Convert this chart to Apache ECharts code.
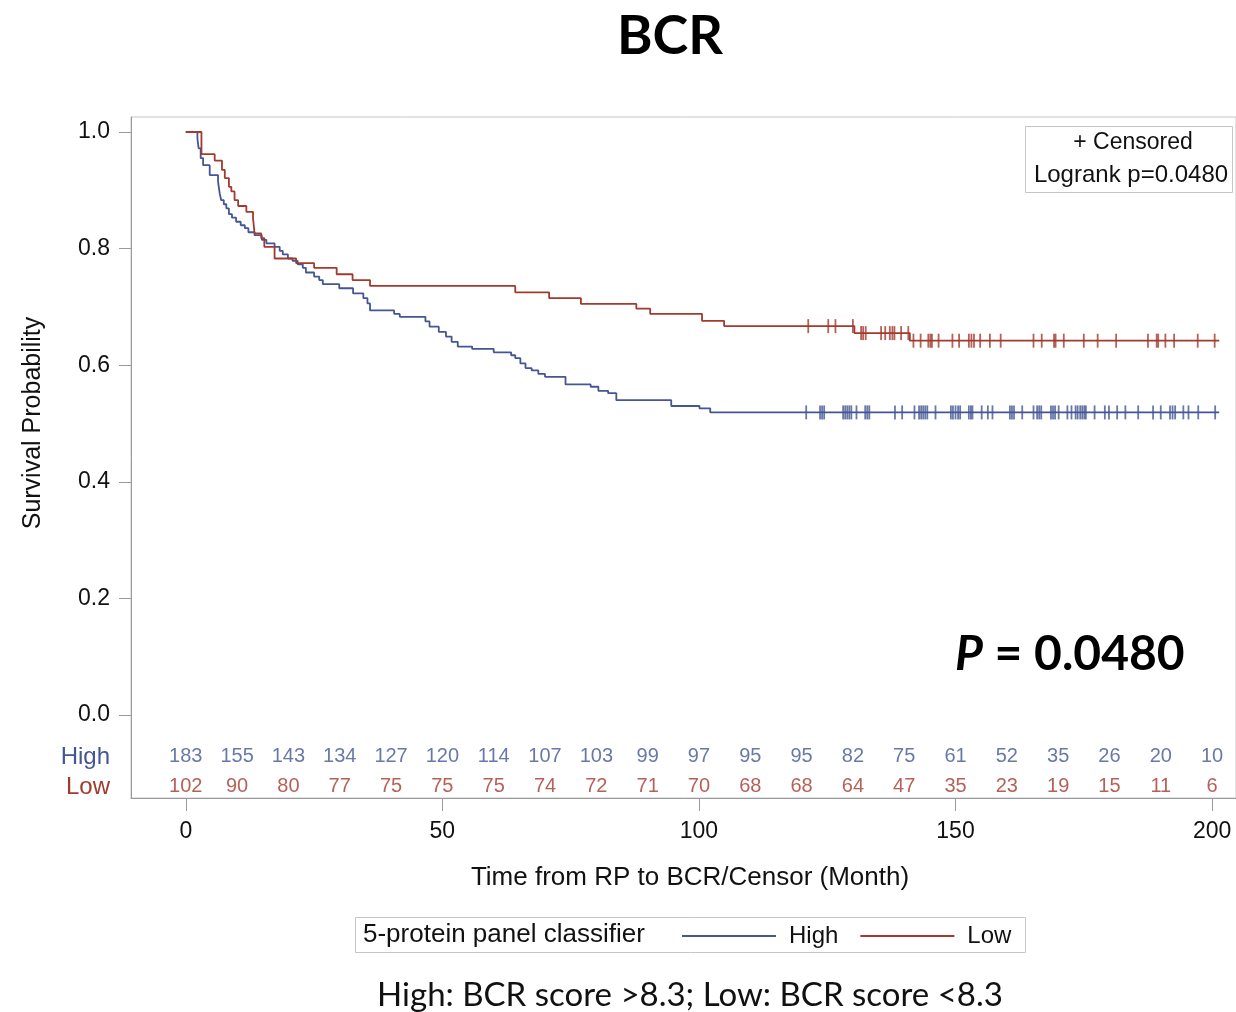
<!DOCTYPE html>
<html>
<head>
<meta charset="utf-8">
<title>BCR</title>
<script src="https://cdn.jsdelivr.net/npm/echarts@6/dist/echarts.min.js"></script>
<style>
  html, body { margin: 0; padding: 0; background: #ffffff; }
  #chart { width: 1236px; height: 1012px; }
</style>
</head>
<body>
<div id="chart"></div>
<script>
// Kaplan-Meier step points [month, survival] — value after each drop
const highSteps = [
  [0, 1], [2.26, 0.989], [2.5, 0.972], [2.9, 0.955], [3.37, 0.943], [4.66, 0.926],
  [6.28, 0.915], [6.6, 0.895], [6.9, 0.883], [7.4, 0.876], [7.9, 0.869], [8.4, 0.859],
  [9.0, 0.853], [9.8, 0.846], [10.7, 0.840], [11.5, 0.835], [12.2, 0.828], [13.4, 0.823],
  [14.8, 0.815], [15.7, 0.809], [17.3, 0.803], [18.3, 0.796], [18.9, 0.790], [19.9, 0.783],
  [20.8, 0.779], [21.8, 0.773], [22.8, 0.767], [23.4, 0.759], [25.0, 0.752], [26.0, 0.746],
  [26.7, 0.739], [29.9, 0.732], [32.6, 0.723], [34.6, 0.715], [35.4, 0.706], [35.9, 0.694],
  [40.6, 0.688], [41.7, 0.683], [46.7, 0.675], [47.5, 0.666], [49.3, 0.657], [50.7, 0.649],
  [51.8, 0.640], [53.0, 0.632], [55.8, 0.628], [60.0, 0.622], [63.4, 0.617], [64.2, 0.612],
  [65.2, 0.603], [66.2, 0.595], [67.4, 0.591], [68.7, 0.585], [70.0, 0.580], [74.0, 0.567],
  [78.9, 0.563], [80.4, 0.556], [82.3, 0.552], [83.9, 0.540], [94.6, 0.530], [100.1, 0.526],
  [102.2, 0.519], [201.4, 0.519]
];
const lowSteps = [
  [0, 1], [3.05, 0.962], [5.63, 0.951], [7.05, 0.935], [7.6, 0.921], [8.4, 0.906],
  [8.87, 0.898], [9.5, 0.883], [10.2, 0.873], [11.8, 0.863], [13.1, 0.852], [13.4, 0.826],
  [14.7, 0.818], [15.3, 0.803], [17.3, 0.783], [21.5, 0.775], [25.0, 0.767], [29.4, 0.756],
  [32.5, 0.746], [35.9, 0.736], [64.2, 0.725], [70.8, 0.715], [77.0, 0.705], [87.8, 0.697],
  [90.5, 0.688], [100.6, 0.676], [104.9, 0.667], [130.3, 0.655], [141.1, 0.642], [201.4, 0.642]
];

// Censoring times (months)
const highCensored = [
  120.9, 123.6, 124.0, 124.4, 128.1, 128.5, 128.9, 129.3, 129.7, 130.7, 132.4, 132.8, 133.2,
  138.2, 139.6, 142.0, 142.9, 143.3, 143.7, 144.1, 144.5, 146.1, 149.1, 149.5, 150.0, 150.5,
  150.9, 152.6, 153.0, 153.3, 155.1, 156.3, 157.2, 160.6, 161.0, 161.4, 163.0, 165.2, 165.9,
  166.3, 166.7, 168.6, 169.0, 169.4, 170.1, 171.8, 172.6, 173.4, 173.8, 174.3, 174.7, 175.1,
  175.4, 177.1, 179.1, 179.9, 181.5, 183.1, 185.6, 188.5, 190.0, 191.8, 192.3, 192.8, 194.4,
  195.4, 197.3, 200.6
];
const lowCensored = [
  121.3, 125.2, 126.6, 130.0, 131.6, 132.0, 132.5, 135.5, 136.3, 137.2, 137.7, 138.1, 139.4,
  140.8, 141.8, 143.2, 144.7, 145.1, 145.4, 146.7, 149.4, 150.7, 152.6, 153.1, 153.6, 154.8,
  156.7, 158.8, 165.2, 166.8, 169.2, 169.5, 171.1, 175.0, 177.7, 181.3, 187.5, 189.2, 189.5,
  190.9, 192.6, 197.2, 200.5
];

// Numbers at risk
const riskTimes = [0, 10, 20, 30, 40, 50, 60, 70, 80, 90, 100, 110, 120, 130, 140, 150, 160, 170, 180, 190, 200];
const riskHigh = [183, 155, 143, 134, 127, 120, 114, 107, 103, 99, 97, 95, 95, 82, 75, 61, 52, 35, 26, 20, 10];
const riskLow = [102, 90, 80, 77, 75, 75, 75, 74, 72, 71, 70, 68, 68, 64, 47, 35, 23, 19, 15, 11, 6];

const xTicks = [0, 50, 100, 150, 200];
const yTicks = [0, 0.2, 0.4, 0.6, 0.8, 1.0];

// Layout / style
const BLUE = '#445694';
const RED = '#A23A2E';
const AXIS_GREY = '#9a9a9a';
const FRAME_GREY = '#c6c6c6';
const SANS = '"Liberation Sans", Arial, sans-serif';
const HUMANIST = 'Lato, "Open Sans", sans-serif';
const ROW_HIGH_Y = -0.072;
const ROW_LOW_Y = -0.1235;

// Survival value of a step curve at time t
function survivalAt(steps, t) {
  let s = steps[0][1];
  for (const [time, val] of steps) {
    if (time <= t) s = val; else break;
  }
  return s;
}

const chart = echarts.init(document.getElementById('chart'), null, { renderer: 'canvas' });

const option = {
  backgroundColor: '#ffffff',
  animation: false,
  grid: {
    left: 131, top: 117, width: 1109, height: 681,
    show: true, borderColor: FRAME_GREY, borderWidth: 1, backgroundColor: 'transparent'
  },
  xAxis: {
    type: 'value', min: -10.68, max: 204.66,
    axisLine: { show: true, onZero: false, lineStyle: { color: AXIS_GREY, width: 1 } },
    axisTick: { show: true, customValues: xTicks, length: 13, lineStyle: { color: AXIS_GREY } },
    axisLabel: { customValues: xTicks, fontSize: 23, color: '#111', fontFamily: SANS, margin: 22 },
    splitLine: { show: false }
  },
  yAxis: {
    type: 'value', min: -0.1424, max: 1.0257,
    axisLine: { show: true, onZero: false, lineStyle: { color: AXIS_GREY, width: 1 } },
    axisTick: { show: true, customValues: yTicks, length: 12, lineStyle: { color: AXIS_GREY } },
    axisLabel: {
      customValues: yTicks, fontSize: 23, color: '#111', fontFamily: SANS, margin: 21,
      formatter: v => v.toFixed(1)
    },
    splitLine: { show: false }
  },
  legend: {
    data: ['High', 'Low'],
    left: 682, top: 924, padding: 0,
    icon: 'rect', itemWidth: 94, itemHeight: 2, itemGap: 22,
    textStyle: { fontSize: 24, color: '#111', fontFamily: SANS, padding: [0, 0, 0, 8] }
  },
  series: [
    {
      name: 'High', type: 'line', step: 'end', data: highSteps,
      symbol: 'none', color: BLUE, lineStyle: { color: BLUE, width: 1.8 }, z: 3
    },
    {
      name: 'Low', type: 'line', step: 'end', data: lowSteps,
      symbol: 'none', color: RED, lineStyle: { color: RED, width: 1.8 }, z: 3
    },
    {
      name: 'High censored', type: 'scatter',
      data: highCensored.map(t => [t, survivalAt(highSteps, t)]),
      symbol: 'rect', symbolSize: [1.8, 14], itemStyle: { color: BLUE }, z: 4
    },
    {
      name: 'Low censored', type: 'scatter',
      data: lowCensored.map(t => [t, survivalAt(lowSteps, t)]),
      symbol: 'rect', symbolSize: [1.8, 14], itemStyle: { color: RED }, z: 4
    },
    {
      name: 'At risk High', type: 'scatter', symbolSize: 0, silent: true,
      data: riskTimes.map((t, i) => [t, ROW_HIGH_Y, riskHigh[i]]),
      label: {
        show: true, position: 'inside', formatter: p => String(p.value[2]),
        color: BLUE, fontSize: 20, fontFamily: SANS
      }
    },
    {
      name: 'At risk Low', type: 'scatter', symbolSize: 0, silent: true,
      data: riskTimes.map((t, i) => [t, ROW_LOW_Y, riskLow[i]]),
      label: {
        show: true, position: 'inside', formatter: p => String(p.value[2]),
        color: RED, fontSize: 20, fontFamily: SANS
      }
    }
  ],
  graphic: [
    {
      type: 'text', x: 670, y: 37,
      style: { text: 'BCR', font: 'bold 54px ' + HUMANIST, fill: '#000', align: 'center', verticalAlign: 'middle' }
    },
    {
      type: 'text', x: 955, y: 655,
      style: {
        text: '{i|P} = 0.0480', fill: '#000', verticalAlign: 'middle',
        font: 'bold 48px ' + HUMANIST,
        rich: { i: { fontStyle: 'italic', fontWeight: 'bold', fontSize: 48, fontFamily: HUMANIST } }
      }
    },
    // Inset: censor key and log-rank p
    {
      type: 'rect', shape: { x: 1025.5, y: 126.5, width: 207, height: 66 },
      style: { fill: '#fff', stroke: FRAME_GREY, lineWidth: 1 }, z: 10
    },
    {
      type: 'text', x: 1133, y: 143, z: 11,
      style: { text: '+ Censored', font: '23px ' + SANS, fill: '#111', align: 'center', verticalAlign: 'middle' }
    },
    {
      type: 'text', x: 1131, y: 175, z: 11,
      style: { text: 'Logrank p=0.0480', font: '24px ' + SANS, fill: '#111', align: 'center', verticalAlign: 'middle' }
    },
    // Axis titles
    {
      type: 'text', x: 33, y: 423, rotation: Math.PI / 2,
      style: { text: 'Survival Probability', font: '25px ' + SANS, fill: '#111', align: 'center', verticalAlign: 'middle' }
    },
    {
      type: 'text', x: 690, y: 878,
      style: { text: 'Time from RP to BCR/Censor (Month)', font: '26px ' + SANS, fill: '#111', align: 'center', verticalAlign: 'middle' }
    },
    // At-risk row labels
    {
      type: 'text', x: 110, y: 757,
      style: { text: 'High', font: '24px ' + SANS, fill: BLUE, align: 'right', verticalAlign: 'middle' }
    },
    {
      type: 'text', x: 110, y: 787,
      style: { text: 'Low', font: '24px ' + SANS, fill: RED, align: 'right', verticalAlign: 'middle' }
    },
    // Group legend frame and title
    {
      type: 'rect', shape: { x: 355.5, y: 917.5, width: 670, height: 35 },
      style: { fill: 'none', stroke: FRAME_GREY, lineWidth: 1 }
    },
    {
      type: 'text', x: 363, y: 935,
      style: { text: '5-protein panel classifier', font: '26px ' + SANS, fill: '#111', align: 'left', verticalAlign: 'middle' }
    },
    // Group definition footnote
    {
      type: 'text', x: 690, y: 995,
      style: { text: 'High: BCR score >8.3; Low: BCR score <8.3', font: '33px ' + HUMANIST, fill: '#111', align: 'center', verticalAlign: 'middle' }
    }
  ]
};

chart.setOption(option);
</script>
</body>
</html>
